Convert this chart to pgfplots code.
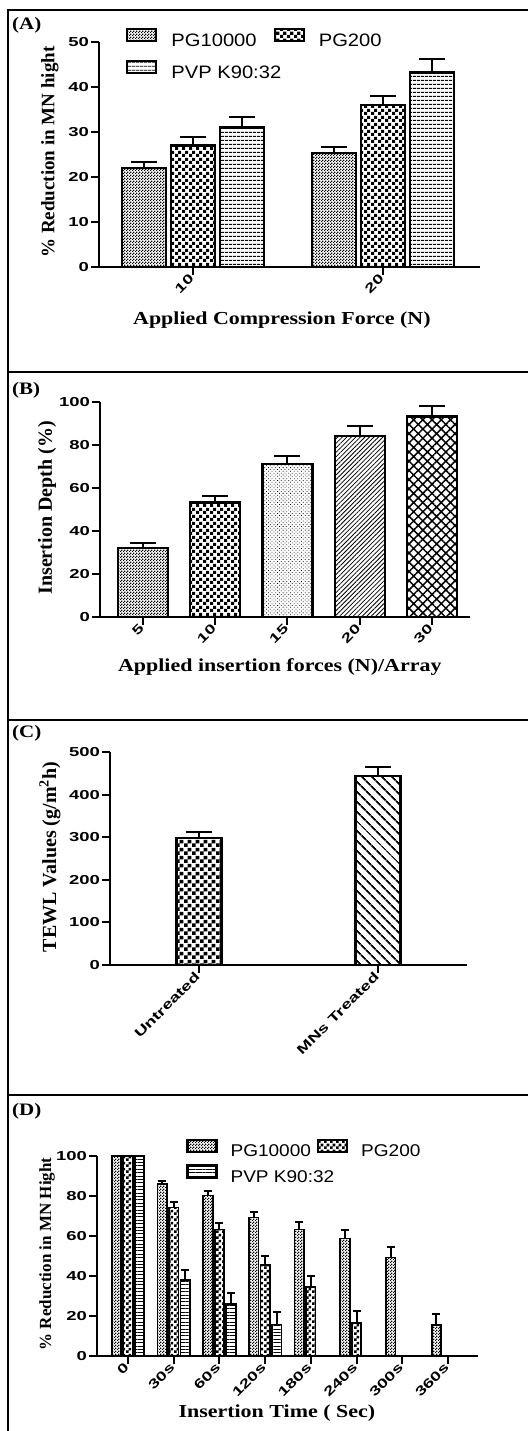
\documentclass[border=0pt]{standalone}
\usepackage{fontspec}
\setmainfont{Liberation Serif}
\newfontfamily\arial{Liberation Sans}
\usepackage{graphicx}
\usepackage{pgfplots}
\pgfplotsset{compat=1.18}
\usetikzlibrary{patterns,patterns.meta}

\newcommand{\tk}[1]{\scalebox{1.42}[1]{#1}}
\newcommand{\lx}[1]{\scalebox{1.2}[1]{#1}}
\newcommand{\lgd}[1]{\scalebox{1.12}[1]{#1}}

\pgfdeclarepatternformonly{checkfine}{\pgfqpoint{0bp}{0bp}}{\pgfqpoint{3bp}{3bp}}{\pgfqpoint{3bp}{3bp}}{%
  \pgfpathrectangle{\pgfqpoint{0bp}{0bp}}{\pgfqpoint{1.5bp}{1.5bp}}%
  \pgfpathrectangle{\pgfqpoint{1.5bp}{1.5bp}}{\pgfqpoint{1.5bp}{1.5bp}}%
  \pgfusepath{fill}}
\pgfdeclarepatternformonly{checkbig}{\pgfqpoint{0bp}{0bp}}{\pgfqpoint{7bp}{7bp}}{\pgfqpoint{7bp}{7bp}}{%
  \pgfpathrectangle{\pgfqpoint{0bp}{0bp}}{\pgfqpoint{3.5bp}{3.5bp}}%
  \pgfpathrectangle{\pgfqpoint{3.5bp}{3.5bp}}{\pgfqpoint{3.5bp}{3.5bp}}%
  \pgfusepath{fill}}
\pgfdeclarepatternformonly{checkC}{\pgfqpoint{0bp}{0bp}}{\pgfqpoint{8bp}{8bp}}{\pgfqpoint{8bp}{8bp}}{%
  \pgfpathrectangle{\pgfqpoint{0bp}{0bp}}{\pgfqpoint{4bp}{4bp}}%
  \pgfpathrectangle{\pgfqpoint{4bp}{4bp}}{\pgfqpoint{4bp}{4bp}}%
  \pgfusepath{fill}}
\pgfdeclarepatternformonly{checkmid}{\pgfqpoint{0bp}{0bp}}{\pgfqpoint{6bp}{6bp}}{\pgfqpoint{6bp}{6bp}}{%
  \pgfpathrectangle{\pgfqpoint{0bp}{0bp}}{\pgfqpoint{3bp}{3bp}}%
  \pgfpathrectangle{\pgfqpoint{3bp}{3bp}}{\pgfqpoint{3bp}{3bp}}%
  \pgfusepath{fill}}

\pgfplotsset{
  ybar legend/.style={legend image code/.code={\draw[##1,line width=2.2bp] (0bp,0.5bp) rectangle (29bp,12.5bp);}},
  base/.style={
    scale only axis, clip=false, ymin=0,
    axis lines*=left, axis line style={-,line width=2bp},
    tick align=outside, major tick length=8bp,
    major tick style={line width=2bp,black},
    /pgf/number format/assume math mode=true,
    tick label style={font=\arial\bfseries\fontsize{13bp}{14bp}\selectfont},
    yticklabel={\tk{\pgfmathprintnumber{\tick}}},
    yticklabel style={inner xsep=2bp},
    xticklabel style={rotate=45,anchor=east,inner sep=2bp},
    xlabel style={font=\bfseries\fontsize{18.3bp}{19bp}\selectfont, anchor=center},
    ylabel style={font=\bfseries\fontsize{19bp}{20bp}\selectfont, anchor=center},
    legend cell align=left,
  },
  bars/.style={draw=black, line width=2.2bp, pattern color=black},
  eb/.style={/pgfplots/error bars/y dir=plus, /pgfplots/error bars/y explicit,
    /pgfplots/error bars/error mark=-,
    /pgfplots/error bars/error mark options={rotate=90, line width=2bp, mark size=#1, black},
    /pgfplots/error bars/error bar style={line width=2bp, black}},
}

\begin{document}
\begin{tikzpicture}[x=1bp,y=1bp]
\path[use as bounding box] (0,0) rectangle (528,1431);
% frames
\draw[line width=1.3bp] (8,0) -- (8,1421) -- (528,1421);
\draw[line width=1.3bp] (8,1059) -- (528,1059);
\draw[line width=1.3bp] (8,711) -- (528,711);
\draw[line width=1.3bp] (8,336) -- (528,336);
\node[anchor=west,inner sep=0,font=\bfseries\fontsize{17.5bp}{18bp}\selectfont] at (12,1406) {\lx{(A)}};
\node[anchor=west,inner sep=0,font=\bfseries\fontsize{17.5bp}{18bp}\selectfont] at (12,1041) {\lx{(B)}};
\node[anchor=west,inner sep=0,font=\bfseries\fontsize{17.5bp}{18bp}\selectfont] at (12,698) {\lx{(C)}};
\node[anchor=west,inner sep=0,font=\bfseries\fontsize{17.5bp}{18bp}\selectfont] at (12,320) {\lx{(D)}};

% ---------------- Panel A
\begin{axis}[base, at={(99bp,1164bp)}, anchor=south west,
  width=381bp, height=225bp,
  xmin=-0.495, xmax=1.51, ymax=50, ytick={0,10,20,30,40,50},
  xtick={0,1}, xticklabels={\tk{10},\tk{20}},
  ybar=5bp, bar width=44bp,
  xlabel={\lx{Applied Compression Force (N)}},
  ylabel={\% Reduction in MN hight},
  xlabel style={at={(axis description cs:0.48,-0.236)}},
  ylabel style={at={(axis description cs:-0.129,0.511)}},
  legend columns=2,
  legend style={draw=none, fill=none, inner sep=0pt, at={(axis description cs:0.071,1.062)}, anchor=north west,
    font=\arial\fontsize{18bp}{18bp}\selectfont,
    nodes={inner sep=1bp, text height=13bp, text depth=3.5bp},
    /tikz/every odd column/.append style={column sep=13bp},
    /tikz/every even column/.append style={column sep=16bp}, row sep=9bp},
]
\addplot[bars, pattern=checkfine, eb=13bp] coordinates {(0,22) +- (0,1.3) (1,25.3) +- (0,1.4)};
\addplot[bars, pattern=checkbig, eb=13bp] coordinates {(0,27) +- (0,1.8) (1,36) +- (0,2.1)};
\addplot[bars, pattern={Lines[angle=0,distance=3.6bp,line width=0.9bp]}, eb=13bp] coordinates {(0,31) +- (0,2.3) (1,43.2) +- (0,3.1)};
\legend{\lgd{PG10000}, \lgd{PG200}, \rlap{\lgd{PVP K90:32}}}
\end{axis}

% ---------------- Panel B
\begin{axis}[base, at={(100bp,814bp)}, anchor=south west,
  width=370bp, height=215bp,
  xmin=-0.595, xmax=4.526, ymax=100, ytick={0,20,40,60,80,100},
  xtick={0,1,2,3,4}, xticklabels={\tk{5},\tk{10},\tk{15},\tk{20},\tk{30}},
  xlabel={\lx{Applied insertion forces (N)/Array}},
  ylabel={Insertion Depth (\%)},
  xlabel style={at={(axis description cs:0.486,-0.233)}},
  ylabel style={at={(axis description cs:-0.143,0.507)}, font=\bfseries\fontsize{20bp}{21bp}\selectfont},
]
\addplot[ybar, bar width=50bp, bar shift=0pt, bars, pattern=checkfine, eb=13bp] coordinates {(0,32) +- (0,2.2)};
\addplot[ybar, bar width=50bp, bar shift=0pt, bars, pattern=checkbig, eb=13bp] coordinates {(1,53.2) +- (0,3.2)};
\addplot[ybar, bar width=50bp, bar shift=0pt, bars, pattern={Dots[distance=2.6bp,radius=0.55bp,angle=45]}, eb=13bp] coordinates {(2,71.2) +- (0,3.7)};
\addplot[ybar, bar width=50bp, bar shift=0pt, bars, pattern={Lines[angle=45,distance=3.2bp,line width=0.8bp]}, eb=13bp] coordinates {(3,84.3) +- (0,4.4)};
\addplot[ybar, bar width=50bp, bar shift=0pt, bars, pattern={Hatch[angle=45,distance=6.5bp,line width=1.5bp]}, eb=13bp] coordinates {(4,93.2) +- (0,4.9)};
\end{axis}

% ---------------- Panel C
\begin{axis}[base, at={(110bp,466bp)}, anchor=south west,
  width=357bp, height=213bp,
  xmin=-0.497, xmax=1.497, ymax=500, ytick={0,100,200,300,400,500},
  xtick={0,1}, xticklabels={\tk{Untreated},\tk{MNs Treated}},
  ylabel={TEWL Values (g/m\textsuperscript{2}h)},
  ylabel style={at={(axis description cs:-0.168,0.507)}, font=\bfseries\fontsize{20bp}{21bp}\selectfont},
]
\addplot[ybar, bar width=45bp, bar shift=0pt, bars, pattern=checkC, eb=13bp] coordinates {(0,299) +- (0,13)};
\addplot[ybar, bar width=45bp, bar shift=0pt, bars, pattern={Lines[angle=-45,distance=6.8bp,line width=1.7bp]}, eb=13bp] coordinates {(1,444) +- (0,21)};
\end{axis}

% ---------------- Panel D
\begin{axis}[base, at={(97bp,75bp)}, anchor=south west,
  width=381bp, height=200bp,
  xmin=-0.678, xmax=7.657, ymax=100, ytick={0,20,40,60,80,100},
  xtick={0,1,2,3,4,5,6,7}, xticklabels={\tk{0},\tk{30s},\tk{60s},\tk{120s},\tk{180s},\tk{240s},\tk{300s},\tk{360s}},
  ybar=2bp, bar width=9.5bp,
  xlabel={\lx{Insertion Time ( Sec)}},
  ylabel={\% Reduction in MN Hight},
  xlabel style={at={(axis description cs:0.472,-0.285)}},
  ylabel style={at={(axis description cs:-0.131,0.51)}, font=\bfseries\fontsize{17bp}{18bp}\selectfont},
  legend columns=2,
  legend style={draw=none, fill=none, inner sep=0pt, at={(axis description cs:0.234,1.087)}, anchor=north west,
    font=\arial\fontsize{17bp}{17bp}\selectfont,
    nodes={inner sep=1bp, text height=12.5bp, text depth=3.5bp},
    /tikz/every odd column/.append style={column sep=12bp},
    /tikz/every even column/.append style={column sep=5bp}, row sep=3bp},
]
\addplot[bars, line width=1.7bp, pattern=checkfine, eb=4bp] coordinates {(0,100) +- (0,0) (1,86) +- (0,1.6) (2,80.3) +- (0,2.3) (3,69.3) +- (0,2.8) (4,63.3) +- (0,3.5) (5,58.8) +- (0,4.1) (6,49.2) +- (0,5.1) (7,15.4) +- (0,5.8)};
\addplot[bars, line width=1.7bp, pattern=checkmid, eb=4bp] coordinates {(0,100) +- (0,0) (1,74.3) +- (0,2.5) (2,63.3) +- (0,3) (3,45.4) +- (0,4.7) (4,34.6) +- (0,5.3) (5,16.5) +- (0,6)};
\addplot[bars, line width=1.7bp, pattern={Lines[angle=0,distance=3.4bp,line width=0.9bp]}, eb=4bp] coordinates {(0,100) +- (0,0) (1,37.9) +- (0,5) (2,25.9) +- (0,5.8) (3,15.7) +- (0,6.3)};
\legend{\lgd{PG10000}, \lgd{PG200}, \rlap{\lgd{PVP K90:32}}}
\end{axis}
\end{tikzpicture}
\end{document}
